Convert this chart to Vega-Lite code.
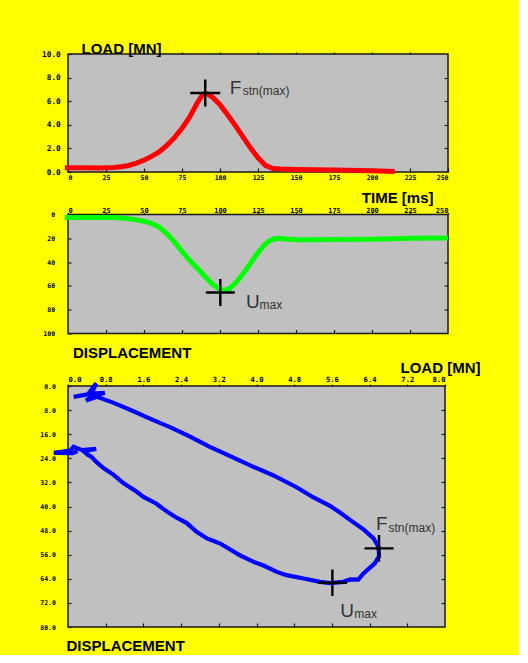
{
  "$schema": "https://vega.github.io/schema/vega-lite/v6.json",
  "usermeta": {"embedOptions": {"actions": false}},
  "background": "#ffff00",
  "padding": {"left": 38, "top": 40, "right": 38, "bottom": 0},
  "spacing": -2.5,
  "config": {
    "view": {"fill": "#c0c0c0", "stroke": "#1a1a1a", "strokeWidth": 1.5},
    "axis": {
      "grid": false, "domain": false, "tickColor": "#1a1a1a", "tickWidth": 1.2,
      "labelFont": "DejaVu Sans Mono", "labelFontWeight": "bold", "labelColor": "#000",
      "titleFont": "Liberation Sans", "titleFontWeight": "bold", "titleFontSize": 15, "titleColor": "#000"
    }
  },
  "vconcat": [
    {
      "width": 380, "height": 118,
      "layer": [
        {
          "data": {"values": [
            {"t": -2, "f": 0.35}, {"t": 10, "f": 0.35}, {"t": 20, "f": 0.33}, {"t": 30, "f": 0.38},
            {"t": 35, "f": 0.45}, {"t": 40, "f": 0.55}, {"t": 45, "f": 0.75}, {"t": 50, "f": 1.0},
            {"t": 55, "f": 1.32}, {"t": 60, "f": 1.7}, {"t": 65, "f": 2.25}, {"t": 70, "f": 2.9},
            {"t": 75, "f": 3.7}, {"t": 80, "f": 4.65}, {"t": 85, "f": 5.85}, {"t": 88, "f": 6.45},
            {"t": 90, "f": 6.65}, {"t": 92, "f": 6.6}, {"t": 95, "f": 6.35}, {"t": 100, "f": 5.7},
            {"t": 105, "f": 4.85}, {"t": 110, "f": 3.95}, {"t": 115, "f": 3.0}, {"t": 120, "f": 2.05},
            {"t": 125, "f": 1.2}, {"t": 130, "f": 0.55}, {"t": 135, "f": 0.3}, {"t": 140, "f": 0.25},
            {"t": 150, "f": 0.22}, {"t": 175, "f": 0.17}, {"t": 200, "f": 0.1}, {"t": 215, "f": 0.05}
          ]},
          "mark": {"type": "line", "color": "#ff0000", "strokeWidth": 5, "clip": false},
          "encoding": {
            "x": {"field": "t", "type": "quantitative", "scale": {"domain": [0, 250], "nice": false, "zero": false},
              "axis": {"orient": "bottom", "values": [0, 25, 50, 75, 100, 125, 150, 175, 200, 225, 250],
                "tickSize": -4, "labelPadding": 6.2, "labelFontSize": 6.5, "labelDx": 7.5,
                "title": "TIME [ms]", "titleX": 365, "titleY": 30.3, "titleAlign": "right", "titleBaseline": "alphabetic"}},
            "y": {"field": "f", "type": "quantitative", "scale": {"domain": [0, 10], "nice": false},
              "axis": {"orient": "left", "values": [0, 2, 4, 6, 8, 10], "format": ".1f",
                "tickSize": -3, "labelPadding": 10.7, "labelFontSize": 7.8, "labelDy": -1,
                "title": "LOAD [MN]", "titleAngle": 0, "titleX": 13, "titleY": -0.5, "titleAlign": "left", "titleBaseline": "alphabetic"}}
          }
        },
        {
          "data": {"values": [{"t": 90.3, "f": 6.69}]},
          "mark": {"type": "point", "shape": "M-1,0L1,0M0,-0.9L0,0.9", "size": 900, "filled": false, "stroke": "#000", "strokeWidth": 2.4, "opacity": 1},
          "encoding": {
            "x": {"field": "t", "type": "quantitative",
              "axis": {"orient": "top", "values": [25, 50, 75, 100, 125, 150, 175, 200, 225], "tickSize": 2, "labels": false, "title": null}},
            "y": {"field": "f", "type": "quantitative",
              "axis": {"orient": "right", "values": [2, 4, 6, 8], "tickSize": -4, "labels": false, "title": null}}
          }
        },
        {
          "data": {"values": [{"t": 90.3, "f": 6.69, "label": "F"}]},
          "mark": {"type": "text", "align": "left", "baseline": "alphabetic", "dx": 24.5, "dy": 0.6, "font": "Liberation Sans", "fontSize": 19, "color": "#333"},
          "encoding": {
            "x": {"field": "t", "type": "quantitative", "axis": null},
            "y": {"field": "f", "type": "quantitative", "axis": null},
            "text": {"field": "label"}
          }
        },
        {
          "data": {"values": [{"t": 90.3, "f": 6.69, "label": "stn(max)"}]},
          "mark": {"type": "text", "align": "left", "baseline": "alphabetic", "dx": 37.5, "dy": 1.6, "font": "Liberation Sans", "fontSize": 12, "color": "#333"},
          "encoding": {
            "x": {"field": "t", "type": "quantitative", "axis": null},
            "y": {"field": "f", "type": "quantitative", "axis": null},
            "text": {"field": "label"}
          }
        }
      ],
      "resolve": {"axis": {"x": "independent", "y": "independent"}}
    },
    {
      "width": 380, "height": 119,
      "layer": [
        {
          "data": {"values": [
            {"t": -2, "d": 2.5}, {"t": 10, "d": 2.5}, {"t": 20, "d": 2.5}, {"t": 30, "d": 2.6},
            {"t": 35, "d": 3.0}, {"t": 40, "d": 3.6}, {"t": 45, "d": 4.5}, {"t": 50, "d": 5.6},
            {"t": 55, "d": 7.5}, {"t": 60, "d": 10.5}, {"t": 65, "d": 16}, {"t": 70, "d": 23},
            {"t": 75, "d": 31}, {"t": 80, "d": 38.5}, {"t": 85, "d": 45}, {"t": 90, "d": 52},
            {"t": 95, "d": 58.5}, {"t": 100, "d": 63}, {"t": 103, "d": 63.8}, {"t": 106, "d": 62.5},
            {"t": 109, "d": 59}, {"t": 112, "d": 55}, {"t": 116, "d": 48.5}, {"t": 120, "d": 41},
            {"t": 125, "d": 32}, {"t": 129, "d": 26}, {"t": 132, "d": 22.5}, {"t": 135, "d": 20.8},
            {"t": 138, "d": 20}, {"t": 142, "d": 20.3}, {"t": 150, "d": 21.2}, {"t": 160, "d": 21.2},
            {"t": 175, "d": 21}, {"t": 200, "d": 20.8}, {"t": 225, "d": 20}, {"t": 250, "d": 19.8}
          ]},
          "mark": {"type": "line", "color": "#00ff00", "strokeWidth": 5, "clip": false},
          "encoding": {
            "x": {"field": "t", "type": "quantitative", "scale": {"domain": [0, 250], "nice": false, "zero": false},
              "axis": {"orient": "top", "values": [0, 25, 50, 75, 100, 125, 150, 175, 200, 225, 250],
                "tickSize": 2, "labelPadding": -0.5, "labelFontSize": 7, "labelDx": 7.5, "title": null}},
            "y": {"field": "d", "type": "quantitative", "scale": {"domain": [0, 100], "nice": false, "reverse": true},
              "axis": {"orient": "left", "values": [0, 20, 40, 60, 80, 100], "format": "d",
                "tickSize": -3, "labelPadding": 16.4, "labelFontSize": 6.5, "labelDy": -2, "title": null}}
          }
        },
        {
          "data": {"values": [{"t": 100.2, "d": 65.5}]},
          "mark": {"type": "point", "shape": "M-1,0L1,0M0,-0.93L0,0.93", "size": 841, "filled": false, "stroke": "#000", "strokeWidth": 2.4, "opacity": 1},
          "encoding": {
            "x": {"field": "t", "type": "quantitative",
              "axis": {"orient": "bottom", "values": [25, 50, 75, 100, 125, 150, 175, 200, 225], "tickSize": -4, "labels": false,
                "title": "DISPLACEMENT", "titleX": 4.5, "titleY": 23.7, "titleAlign": "left", "titleBaseline": "alphabetic"}},
            "y": {"field": "d", "type": "quantitative",
              "axis": {"orient": "right", "values": [20, 40, 60, 80], "tickSize": -4, "labels": false, "title": null}}
          }
        },
        {
          "data": {"values": [{"t": 100.2, "d": 65.5, "label": "U"}]},
          "mark": {"type": "text", "align": "left", "baseline": "alphabetic", "dx": 25.6, "dy": 15.4, "font": "Liberation Sans", "fontSize": 19, "color": "#333"},
          "encoding": {
            "x": {"field": "t", "type": "quantitative", "axis": null},
            "y": {"field": "d", "type": "quantitative", "axis": null},
            "text": {"field": "label"}
          }
        },
        {
          "data": {"values": [{"t": 100.2, "d": 65.5, "label": "max"}]},
          "mark": {"type": "text", "align": "left", "baseline": "alphabetic", "dx": 39.2, "dy": 16.7, "font": "Liberation Sans", "fontSize": 12, "color": "#333"},
          "encoding": {
            "x": {"field": "t", "type": "quantitative", "axis": null},
            "y": {"field": "d", "type": "quantitative", "axis": null},
            "text": {"field": "label"}
          }
        }
      ],
      "resolve": {"axis": {"x": "independent", "y": "independent"}}
    },
    {
      "width": 377, "height": 241,
      "layer": [
        {
          "data": {"values": [
            {"i": 1, "x": 0.12, "y": 3.6}, {"i": 2, "x": 0.42, "y": 2.8}, {"i": 3, "x": 0.6, "y": -0.9},
            {"i": 4, "x": 0.5, "y": 2.5}, {"i": 5, "x": 0.78, "y": 2.3}, {"i": 6, "x": 0.55, "y": 3.2},
            {"i": 7, "x": 0.38, "y": 4.8}, {"i": 8, "x": 0.62, "y": 3.6}, {"i": 9, "x": 0.97, "y": 5.6},
            {"i": 10, "x": 1.39, "y": 8.4}, {"i": 11, "x": 1.75, "y": 10.9}, {"i": 12, "x": 2.2, "y": 13.9},
            {"i": 13, "x": 2.59, "y": 16.8}, {"i": 14, "x": 3.0, "y": 20.1}, {"i": 15, "x": 3.44, "y": 23.3},
            {"i": 16, "x": 3.9, "y": 26.6}, {"i": 17, "x": 4.36, "y": 29.7}, {"i": 18, "x": 4.85, "y": 33.6},
            {"i": 19, "x": 5.21, "y": 37.0}, {"i": 20, "x": 5.56, "y": 39.8}, {"i": 21, "x": 5.77, "y": 42.0},
            {"i": 22, "x": 6.05, "y": 45.2}, {"i": 23, "x": 6.27, "y": 47.6}, {"i": 24, "x": 6.48, "y": 50.5},
            {"i": 25, "x": 6.59, "y": 53.3}, {"i": 26, "x": 6.6, "y": 56.5}, {"i": 27, "x": 6.51, "y": 58.9},
            {"i": 28, "x": 6.27, "y": 62.2}, {"i": 29, "x": 6.16, "y": 64.3}, {"i": 30, "x": 5.99, "y": 64.2},
            {"i": 31, "x": 5.84, "y": 65.0}, {"i": 32, "x": 5.56, "y": 65.4}, {"i": 33, "x": 5.35, "y": 65.0},
            {"i": 34, "x": 5.0, "y": 63.9}, {"i": 35, "x": 4.64, "y": 62.8}, {"i": 36, "x": 4.43, "y": 61.7},
            {"i": 37, "x": 4.15, "y": 59.6}, {"i": 38, "x": 3.94, "y": 58.4}, {"i": 39, "x": 3.65, "y": 56.2},
            {"i": 40, "x": 3.23, "y": 52.3}, {"i": 41, "x": 2.95, "y": 50.6}, {"i": 42, "x": 2.73, "y": 48.4},
            {"i": 43, "x": 2.52, "y": 45.5}, {"i": 44, "x": 2.28, "y": 43.5}, {"i": 45, "x": 2.1, "y": 41.7},
            {"i": 46, "x": 1.87, "y": 39.0}, {"i": 47, "x": 1.6, "y": 36.8}, {"i": 48, "x": 1.46, "y": 35.1},
            {"i": 49, "x": 1.18, "y": 32.3}, {"i": 50, "x": 0.97, "y": 29.5}, {"i": 51, "x": 0.76, "y": 27.3},
            {"i": 52, "x": 0.6, "y": 25.2}, {"i": 53, "x": 0.5, "y": 23.5}, {"i": 54, "x": 0.42, "y": 22.8},
            {"i": 55, "x": 0.33, "y": 21.6}, {"i": 56, "x": 0.6, "y": 20.9}, {"i": 57, "x": 0.3, "y": 21.3},
            {"i": 58, "x": 0.12, "y": 20.2}, {"i": 59, "x": 0.05, "y": 21.4}, {"i": 60, "x": -0.3, "y": 22.2},
            {"i": 61, "x": 0.1, "y": 22.3}, {"i": 62, "x": 0.2, "y": 21.6}
          ]},
          "mark": {"type": "line", "color": "#0000ff", "strokeWidth": 4.2, "clip": false},
          "encoding": {
            "order": {"field": "i", "type": "quantitative"},
            "x": {"field": "x", "type": "quantitative", "scale": {"domain": [0, 8], "nice": false, "zero": false},
              "axis": {"orient": "top", "values": [0, 0.8, 1.6, 2.4, 3.2, 4, 4.8, 5.6, 6.4, 7.2, 8], "format": ".1f",
                "tickSize": 2, "labelPadding": 0.5, "labelFontSize": 7.2, "labelDx": 7.5,
                "title": "LOAD [MN]", "titleX": 332, "titleY": -13.7, "titleAlign": "left", "titleBaseline": "alphabetic"}},
            "y": {"field": "y", "type": "quantitative", "scale": {"domain": [0, 80], "nice": false, "reverse": true},
              "axis": {"orient": "left", "values": [0, 8, 16, 24, 32, 40, 48, 56, 64, 72, 80], "format": ".1f",
                "tickSize": -3, "labelPadding": 15.6, "labelFontSize": 6.5, "labelDy": -2, "title": null}}
          }
        },
        {
          "data": {"values": [{"x": 6.6, "y": 53.9}, {"x": 5.61, "y": 65.3}]},
          "mark": {"type": "point", "shape": "M-1,0L1,0M0,-0.92L0,0.92", "size": 841, "filled": false, "stroke": "#000", "strokeWidth": 2.4, "opacity": 1},
          "encoding": {
            "x": {"field": "x", "type": "quantitative",
              "axis": {"orient": "bottom", "values": [0.8, 1.6, 2.4, 3.2, 4, 4.8, 5.6, 6.4, 7.2], "tickSize": -4, "labels": false,
                "title": "DISPLACEMENT", "titleX": -2, "titleY": 23.3, "titleAlign": "left", "titleBaseline": "alphabetic"}},
            "y": {"field": "y", "type": "quantitative",
              "axis": {"orient": "right", "values": [8, 16, 24, 32, 40, 48, 56, 64, 72], "tickSize": -4, "labels": false, "title": null}}
          }
        },
        {
          "data": {"values": [{"x": 6.6, "y": 53.9, "label": "F"}]},
          "mark": {"type": "text", "align": "left", "baseline": "alphabetic", "dx": -3, "dy": -18.3, "font": "Liberation Sans", "fontSize": 19, "color": "#333"},
          "encoding": {
            "x": {"field": "x", "type": "quantitative", "axis": null},
            "y": {"field": "y", "type": "quantitative", "axis": null},
            "text": {"field": "label"}
          }
        },
        {
          "data": {"values": [{"x": 6.6, "y": 53.9, "label": "stn(max)"}]},
          "mark": {"type": "text", "align": "left", "baseline": "alphabetic", "dx": 9.5, "dy": -16, "font": "Liberation Sans", "fontSize": 12, "color": "#333"},
          "encoding": {
            "x": {"field": "x", "type": "quantitative", "axis": null},
            "y": {"field": "y", "type": "quantitative", "axis": null},
            "text": {"field": "label"}
          }
        },
        {
          "data": {"values": [{"x": 5.61, "y": 65.3, "label": "U"}]},
          "mark": {"type": "text", "align": "left", "baseline": "alphabetic", "dx": 8, "dy": 34.6, "font": "Liberation Sans", "fontSize": 19, "color": "#333"},
          "encoding": {
            "x": {"field": "x", "type": "quantitative", "axis": null},
            "y": {"field": "y", "type": "quantitative", "axis": null},
            "text": {"field": "label"}
          }
        },
        {
          "data": {"values": [{"x": 5.61, "y": 65.3, "label": "max"}]},
          "mark": {"type": "text", "align": "left", "baseline": "alphabetic", "dx": 22, "dy": 35.6, "font": "Liberation Sans", "fontSize": 12, "color": "#333"},
          "encoding": {
            "x": {"field": "x", "type": "quantitative", "axis": null},
            "y": {"field": "y", "type": "quantitative", "axis": null},
            "text": {"field": "label"}
          }
        }
      ],
      "resolve": {"axis": {"x": "independent", "y": "independent"}}
    }
  ]
}
